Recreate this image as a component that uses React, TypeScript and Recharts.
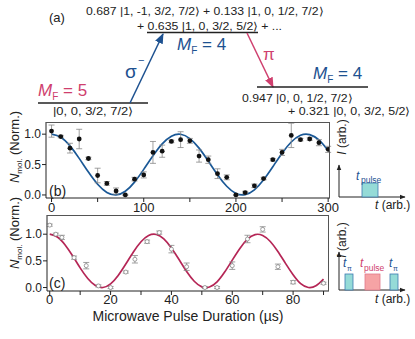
import React from "react";
import {
  ComposedChart,
  Line,
  Scatter,
  XAxis,
  YAxis,
  ErrorBar,
} from "recharts";

// panel (b): single-pulse Rabi data
const tB = [0, 10, 20, 30, 40, 50, 60, 70, 80, 90, 100, 110, 120, 130, 140, 150, 160, 170, 180, 190, 200, 210, 220, 230, 240, 250, 260, 270, 280, 290, 300];
const nB = [1.05, 0.96, 0.77, 0.92, 0.6, 0.32, 0.19, 0.065, 0.0, 0.26, 0.33, 0.7, 0.72, 0.88, 0.91, 0.89, 0.64, 0.58, 0.35, 0.29, 0.0, 0.04, 0.15, 0.27, 0.58, 0.7, 0.98, 0.91, 0.92, 0.86, 0.75];
const errB = [0.1, 0.02, 0.08, 0.16, 0.02, 0.12, 0.03, 0.05, 0.01, 0.03, 0.05, 0.18, 0.1, 0.02, 0.13, 0.04, 0.1, 0.06, 0.08, 0.04, 0.01, 0.02, 0.03, 0.02, 0.02, 0.05, 0.2, 0.02, 0.02, 0.05, 0.05];
const fitTB = [0, 10, 20, 30, 40, 50, 60, 70, 80, 90, 100, 110, 120, 130, 140, 150, 160, 170, 180, 190, 200, 210, 220, 230, 240, 250, 260, 270, 280, 290, 300];
const fitB = [1.0, 0.949, 0.807, 0.602, 0.376, 0.176, 0.042, 0.0, 0.06, 0.211, 0.421, 0.645, 0.841, 0.967, 0.998, 0.927, 0.77, 0.557, 0.333, 0.143, 0.025, 0.005, 0.084, 0.25, 0.465, 0.688, 0.871, 0.982, 0.993, 0.904, 0.729];

// panel (c): composite pulse data
const tC = [0, 2, 4, 8, 12, 16, 20, 25, 28, 32, 36, 40, 45, 51, 55, 60, 65, 70, 75, 80, 90];
const nC = [1.17, 1.0, 0.94, 0.56, 0.41, 0.03, 0.0, 0.29, 0.53, 0.86, 1.03, 0.72, 0.39, 0.0, 0.0, 0.41, 0.91, 1.09, 0.39, 0.1, 0.08];
const errC = [0.02, 0.02, 0.04, 0.03, 0.06, 0.02, 0.02, 0.02, 0.07, 0.03, 0.03, 0.07, 0.07, 0.02, 0.02, 0.07, 0.07, 0.05, 0.05, 0.03, 0.02];
const fitTC = [0, 2.5, 5, 7.5, 10, 12.5, 15, 17.5, 20, 22.5, 25, 27.5, 30, 32.5, 35, 37.5, 40, 42.5, 45, 47.5, 50, 52.5, 55, 57.5, 60, 62.5, 65, 67.5, 70, 72.5, 75, 77.5, 80, 82.5, 85, 87.5, 90];
const fitC = [1.0, 0.948, 0.803, 0.596, 0.368, 0.168, 0.037, 0.001, 0.069, 0.226, 0.44, 0.666, 0.858, 0.975, 0.995, 0.913, 0.742, 0.525, 0.301, 0.118, 0.013, 0.009, 0.106, 0.29, 0.513, 0.732, 0.907, 0.993, 0.976, 0.864, 0.676, 0.453, 0.24, 0.072, 0.001, 0.032, 0.157];

const ticksB = [0, 50, 100, 150, 200, 250, 300];
const ticksC = [0, 10, 20, 30, 40, 50, 60, 70, 80, 90];
const yTicks = [0, 0.5, 1.0];

const FONT = "'Liberation Sans', Arial, sans-serif";
const BLUE = "#1d5190";
const PINK = "#cf3f6e";
const CURVE_B = "#1a5896";
const CURVE_C = "#b52656";
const TEAL = "#95dbd7";

const ptsB = tB.map((t, i) => ({ t, n: nB[i], err: errB[i] }));
const lineB = fitTB.map((t, i) => ({ t, f: fitB[i] }));
const ptsC = tC.map((t, i) => ({ t, n: nC[i], err: errC[i] }));
const lineC = fitTC.map((t, i) => ({ t, f: fitC[i] }));

const tickStyle = { fill: "#222", fontSize: 13, fontFamily: FONT };

function Ket({ x, y, w, s, size = 11 }: { x: number; y: number; w: number; s: string; size?: number }) {
  return (
    <text x={x} y={y} fontSize={size} fill="#222" textLength={w} lengthAdjust="spacingAndGlyphs">
      {s}
    </text>
  );
}

function MF({ x, y, n, color }: { x: number; y: number; n: number; color: string }) {
  return (
    <text x={x} y={y} fontSize={17} fill={color}>
      <tspan fontStyle="italic">M</tspan>
      <tspan fontSize={10} dy={4}>F</tspan>
      <tspan dy={-4}> = {n}</tspan>
    </text>
  );
}

function Overlay() {
  return (
    <svg
      width={415}
      height={339}
      style={{ position: "absolute", left: 0, top: 0, pointerEvents: "none", fontFamily: FONT }}
    >
      <defs>
        <marker id="hb" viewBox="0 0 10 10" refX="9" refY="5" markerWidth="7" markerHeight="7" orient="auto">
          <path d="M0,1 L10,5 L0,9 z" fill={BLUE} />
        </marker>
        <marker id="hp" viewBox="0 0 10 10" refX="9" refY="5" markerWidth="7" markerHeight="7" orient="auto">
          <path d="M0,1 L10,5 L0,9 z" fill={PINK} />
        </marker>
        <marker id="hk" viewBox="0 0 10 10" refX="9" refY="5" markerWidth="6" markerHeight="6" orient="auto">
          <path d="M0,1 L10,5 L0,9 z" fill="#222" />
        </marker>
      </defs>

      {/* (a) level diagram */}
      <text x={49} y={22} fontSize={13} fill="#222">(a)</text>
      <Ket x={86} y={15} w={237} s="0.687 |1, -1, 3/2, 7/2⟩ + 0.133 |1, 0, 1/2, 7/2⟩" />
      <Ket x={137} y={30} w={145} s="+ 0.635 |1, 0, 3/2, 5/2⟩ + ..." />
      <line x1={147} x2={258} y1={32.5} y2={32.5} stroke="#222" strokeWidth={1.5} />
      <MF x={177} y={50} n={4} color={BLUE} />

      <line x1={38} x2={148} y1={103} y2={103} stroke="#222" strokeWidth={1.5} />
      <MF x={38} y={96} n={5} color={PINK} />
      <Ket x={53} y={115} w={80} s="|0, 0, 3/2, 7/2⟩" />

      <line x1={130} y1={103} x2={163} y2={34} stroke={BLUE} strokeWidth={1.5} markerEnd="url(#hb)" />
      <text x={125} y={78} fontSize={19} fill={BLUE}>σ</text>
      <text x={138} y={64} fontSize={11} fill={BLUE}>−</text>

      <line x1={247} y1={33} x2={273} y2={87} stroke={PINK} strokeWidth={1.5} markerEnd="url(#hp)" />
      <text x={263} y={60} fontSize={17} fill={PINK}>π</text>

      <line x1={257} x2={368} y1={87} y2={87} stroke="#222" strokeWidth={1.5} />
      <MF x={313} y={79} n={4} color={BLUE} />
      <Ket x={242} y={102} w={110} s="0.947 |0, 0, 1/2, 7/2⟩" />
      <Ket x={288} y={115} w={122} s="+ 0.321 |0, 0, 3/2, 5/2⟩" />

      {/* frames of the two plots */}
      <line x1={46} x2={330} y1={122.5} y2={122.5} stroke="#555" />
      <line x1={329.5} x2={329.5} y1={122} y2={198} stroke="#555" />
      <line x1={47} x2={329} y1={215.5} y2={215.5} stroke="#555" />
      <line x1={328.5} x2={328.5} y1={215} y2={291} stroke="#555" />

      {/* y labels */}
      <text transform="translate(19,147) rotate(-90)" textAnchor="middle" fontSize={13} fill="#222">
        <tspan fontStyle="italic">N</tspan>
        <tspan fontSize={8} dy={3}>mol.</tspan>
        <tspan dy={-3}> (Norm.)</tspan>
      </text>
      <text transform="translate(19,233) rotate(-90)" textAnchor="middle" fontSize={13} fill="#222">
        <tspan fontStyle="italic">N</tspan>
        <tspan fontSize={8} dy={3}>mol.</tspan>
        <tspan dy={-3}> (Norm.)</tspan>
      </text>

      {/* panel labels */}
      <text x={49} y={196} fontSize={14} fill="#222">(b)</text>
      <text x={49} y={288} fontSize={14} fill="#222">(c)</text>

      {/* x label */}
      <text x={188} y={321} textAnchor="middle" fontSize={14} fill="#222">Microwave Pulse Duration (µs)</text>

      {/* inset b: pulse sequence */}
      <text transform="translate(346,137) rotate(-90)" textAnchor="middle" fontSize={12} fill="#222">
        <tspan fontStyle="italic">I</tspan> (arb.)
      </text>
      <line x1={339} y1={197} x2={339} y2={165} stroke="#222" strokeWidth={1} markerEnd="url(#hk)" />
      <line x1={339} y1={197} x2={405} y2={197} stroke="#222" strokeWidth={1} markerEnd="url(#hk)" />
      <rect x={362} y={183} width={16} height={14} fill={TEAL} stroke="#3d7bb0" strokeWidth={0.8} />
      <text x={356} y={180} fontSize={12} fill={BLUE} fontStyle="italic">t</text>
      <text x={361} y={183} fontSize={8.5} fill={BLUE}>pulse</text>
      <text x={375} y={209} fontSize={12} fill="#222">
        <tspan fontStyle="italic">t</tspan> (arb.)
      </text>

      {/* inset c: pulse sequence */}
      <text transform="translate(346,240) rotate(-90)" textAnchor="middle" fontSize={12} fill="#222">
        <tspan fontStyle="italic">I</tspan> (arb.)
      </text>
      <line x1={339} y1={290} x2={339} y2={252} stroke="#222" strokeWidth={1} markerEnd="url(#hk)" />
      <line x1={339} y1={290} x2={405} y2={290} stroke="#222" strokeWidth={1} markerEnd="url(#hk)" />
      <rect x={345} y={274} width={8} height={16} fill={TEAL} stroke="#3d7bb0" strokeWidth={0.8} />
      <rect x={365} y={274} width={15} height={16} fill="#f6a3a5" stroke="#e0798a" strokeWidth={0.8} />
      <rect x={390} y={274} width={8} height={16} fill={TEAL} stroke="#3d7bb0" strokeWidth={0.8} />
      <text x={343} y={267} fontSize={12} fill={BLUE} fontStyle="italic">t</text>
      <text x={347} y={271} fontSize={7} fill={BLUE}>π</text>
      <text x={360} y={267} fontSize={12} fill={PINK} fontStyle="italic">t</text>
      <text x={364} y={271} fontSize={8.5} fill={PINK}>pulse</text>
      <text x={389} y={267} fontSize={12} fill={BLUE} fontStyle="italic">t</text>
      <text x={393} y={271} fontSize={7} fill={BLUE}>π</text>
      <text x={375} y={303} fontSize={12} fill="#222">
        <tspan fontStyle="italic">t</tspan> (arb.)
      </text>
    </svg>
  );
}

const filledDot = (p: any) => <circle cx={p.cx} cy={p.cy} r={2.4} fill="#111" />;
const openDot = (p: any) => <circle cx={p.cx} cy={p.cy} r={2} fill="#fff" stroke="#888" strokeWidth={0.8} />;

export default function App() {
  return (
    <div style={{ position: "relative", width: 415, height: 339, background: "#fff", fontFamily: FONT }}>
      <style>{"body{margin:0}"}</style>

      <div style={{ position: "absolute", left: 0, top: 110 }}>
        <ComposedChart width={345} height={110} margin={{ top: 12, right: 15, bottom: 0, left: 0 }}>
          <XAxis
            type="number"
            dataKey="t"
            domain={[-6, 302]}
            ticks={ticksB}
            tickFormatter={(v: number) => (v % 100 === 0 ? String(v) : "")}
            allowDataOverflow
            height={22}
            tickSize={4}
            tickMargin={1}
            tick={tickStyle}
            stroke="#222"
          />
          <YAxis
            type="number"
            domain={[-0.05, 1.2]}
            ticks={yTicks}
            tickFormatter={(v: number) => v.toFixed(1)}
            allowDataOverflow
            width={46}
            tickSize={4}
            tickMargin={1}
            tick={{ ...tickStyle, fontSize: 12 }}
            stroke="#222"
          />
          <Line
            data={lineB}
            dataKey="f"
            type="natural"
            stroke={CURVE_B}
            strokeWidth={1.7}
            dot={false}
            isAnimationActive={false}
          />
          <Scatter data={ptsB} dataKey="n" shape={filledDot} isAnimationActive={false}>
            <ErrorBar dataKey="err" direction="y" width={3} stroke="#888" strokeWidth={0.8} />
          </Scatter>
        </ComposedChart>
      </div>

      <div style={{ position: "absolute", left: 0, top: 203 }}>
        <ComposedChart width={345} height={110} margin={{ top: 12, right: 16, bottom: 0, left: 0 }}>
          <XAxis
            type="number"
            dataKey="t"
            domain={[-0.9, 91.8]}
            ticks={ticksC}
            tickFormatter={(v: number) => (v % 20 === 0 ? String(v) : "")}
            allowDataOverflow
            height={22}
            tickSize={4}
            tickMargin={0}
            tick={tickStyle}
            stroke="#222"
          />
          <YAxis
            type="number"
            domain={[-0.065, 1.36]}
            ticks={yTicks}
            tickFormatter={(v: number) => v.toFixed(1)}
            allowDataOverflow
            width={47}
            tickSize={4}
            tickMargin={1}
            tick={{ ...tickStyle, fontSize: 12 }}
            stroke="#222"
          />
          <Line
            data={lineC}
            dataKey="f"
            type="natural"
            stroke={CURVE_C}
            strokeWidth={1.7}
            dot={false}
            isAnimationActive={false}
          />
          <Scatter data={ptsC} dataKey="n" shape={openDot} isAnimationActive={false}>
            <ErrorBar dataKey="err" direction="y" width={3} stroke="#888" strokeWidth={0.8} />
          </Scatter>
        </ComposedChart>
      </div>

      <Overlay />
    </div>
  );
}
